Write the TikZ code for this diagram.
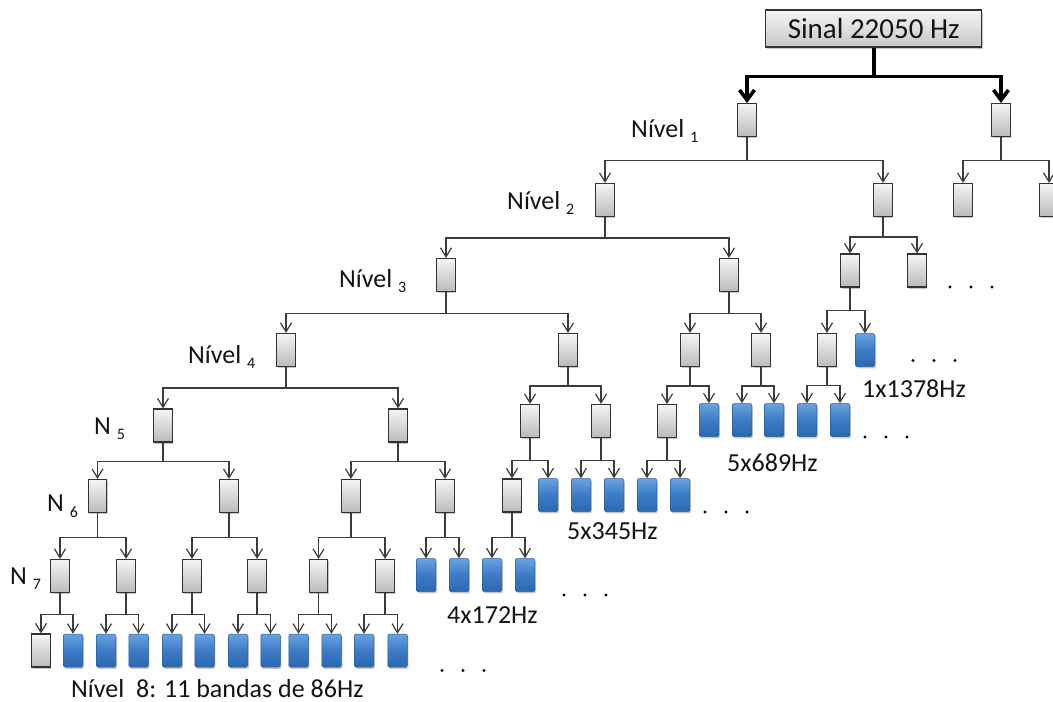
\documentclass[tikz,border=0pt]{standalone}
\usepackage{fontspec}
\setmainfont{Carlito}
\usetikzlibrary{arrows.meta,shadows}
\definecolor{linegray}{HTML}{3C3C3C}
\definecolor{boxtop}{HTML}{F5F5F5}
\definecolor{boxbot}{HTML}{BABABA}
\definecolor{boxedge}{HTML}{333333}
\definecolor{bluetop}{HTML}{6AA2E0}
\definecolor{bluemid}{HTML}{3C7CC6}
\definecolor{bluebot}{HTML}{2C68B0}
\definecolor{blueedge}{HTML}{2A5E9C}
\definecolor{inktext}{HTML}{141414}

% level label with a lowered index digit
\newcommand\nivlabel[2]{#1 \raisebox{-5.5pt}{\fontsize{16}{16}\selectfont #2}}
% parent #1 splits into #2 and #3, branch line #4 below the parent
\newcommand\splitto[4]{%
  \draw[conn] (#1.south) -- ++(0,#4) coordinate (#1-m);
  \draw[conn,arr] (#1-m) -| (#2.north);
  \draw[conn,arr] (#1-m) -| (#3.north);}

\begin{document}
\begin{tikzpicture}[x=1pt,y=-1pt,
  boxshadow/.style={drop shadow={shadow xshift=1.2pt,shadow yshift=-1.8pt,opacity=0.22,fill=black}},
  gbox/.style={draw=boxedge,line width=1.1pt,top color=boxtop,bottom color=boxbot,
    minimum width=18.5pt,minimum height=33pt,inner sep=0pt,boxshadow},
  bbox/.style={draw=blueedge,line width=0.5pt,rounded corners=1.5pt,
    top color=bluetop,bottom color=bluebot,middle color=bluemid,
    minimum width=19.5pt,minimum height=33pt,inner sep=0pt,boxshadow},
  sbox/.style={draw=boxedge,line width=1.3pt,top color=boxtop,bottom color=black!22,
    minimum width=216pt,minimum height=37pt,inner sep=0pt,boxshadow,
    font=\fontsize{29}{32}\selectfont,text=inktext},
  conn/.style={draw=linegray,line width=1.2pt},
  arr/.style={-{Straight Barb[length=9pt,width=11pt]}},
  bigconn/.style={draw=black,line width=3.6pt},
  bigarr/.style={-{Straight Barb[length=10pt,width=15pt]}},
  lbl/.style={inner sep=0pt,anchor=base west,font=\fontsize{26}{30}\selectfont,text=inktext},
  dot/.style={fill=black,radius=1.7pt}]

\fill[white] (0,0) rectangle (1053,702);
\clip (0,0) rectangle (1053,702);

% signal and level 1
\node[sbox] (s) at (873.7,28.5) {Sinal 22050 Hz};
\node[gbox] (a) at (747,120) {};
\node[gbox] (b) at (1001,120) {};

% level 2
\node[gbox] (aa) at (605,200) {};
\node[gbox] (ab) at (883,200) {};
\node[gbox] (ba) at (963,200) {};
\node[gbox] (bb) at (1049,200) {};

% level 3
\node[gbox] (aaa) at (446,275) {};
\node[gbox] (aab) at (729,275) {};
\node[gbox] (aba) at (850,270.5) {};
\node[gbox] (abb) at (917,270.5) {};

% level 4
\node[gbox] (aaaa) at (286,350) {};
\node[gbox] (aaab) at (568,350) {};
\node[gbox] (aaba) at (690,350) {};
\node[gbox] (aabb) at (761,350) {};
\node[gbox] (abaa) at (827,350) {};
\node[bbox] (abab) at (865,350) {};

% level 5
\node[gbox] (e1) at (163,425.5) {};
\node[gbox] (e2) at (398,425.5) {};
\node[gbox] (e3) at (530,421) {};
\node[gbox] (e4) at (601,421) {};
\node[gbox] (e5) at (667,421) {};
\node[bbox] (e6) at (709,420) {};
\node[bbox] (e7) at (742,420) {};
\node[bbox] (e8) at (774,420) {};
\node[bbox] (e9) at (807,420) {};
\node[bbox] (e10) at (840,420) {};

% level 6
\node[gbox] (f1) at (97.5,496) {};
\node[gbox] (f2) at (229,496) {};
\node[gbox] (f3) at (351,496) {};
\node[gbox] (f4) at (445,496) {};
\node[gbox] (f5) at (512,495.5) {};
\node[bbox] (f6) at (548,495) {};
\node[bbox] (f7) at (581,495) {};
\node[bbox] (f8) at (614,495) {};
\node[bbox] (f9) at (647,495) {};
\node[bbox] (f10) at (680,495) {};

% level 7
\node[gbox] (g1) at (60,576) {};
\node[gbox] (g2) at (126,576) {};
\node[gbox] (g3) at (192,576) {};
\node[gbox] (g4) at (257,576) {};
\node[gbox] (g5) at (318.5,576) {};
\node[gbox] (g6) at (385,576) {};
\node[bbox] (g7) at (426,575) {};
\node[bbox] (g8) at (459,575) {};
\node[bbox] (g9) at (492,575) {};
\node[bbox] (g10) at (525,575) {};

% level 8
\node[gbox] (h1) at (41,650.5) {};
\node[bbox] (h2) at (73,650.5) {};
\node[bbox] (h3) at (106,650.5) {};
\node[bbox] (h4) at (138.5,650.5) {};
\node[bbox] (h5) at (172,650.5) {};
\node[bbox] (h6) at (204.5,650.5) {};
\node[bbox] (h7) at (238,650.5) {};
\node[bbox] (h8) at (270.5,650.5) {};
\node[bbox] (h9) at (298.5,650.5) {};
\node[bbox] (h10) at (331.5,650.5) {};
\node[bbox] (h11) at (364,650.5) {};
\node[bbox] (h12) at (397.5,650.5) {};

% bold split of the input signal
\draw[bigconn] (s.south) -- ++(0,29) coordinate (s-m);
\draw[bigconn,bigarr] (s-m) -| (a.north);
\draw[bigconn,bigarr] (s-m) -| (b.north);

% filter bank splits
\splitto{a}{aa}{ab}{23.5}
\splitto{b}{ba}{bb}{23.5}
\splitto{aa}{aaa}{aab}{21}
\splitto{ab}{aba}{abb}{20}
\splitto{aaa}{aaaa}{aaab}{21.5}
\splitto{aab}{aaba}{aabb}{21.5}
\splitto{aba}{abaa}{abab}{23}
\splitto{aaaa}{e1}{e2}{21}
\splitto{aaab}{e3}{e4}{19}
\splitto{aaba}{e5}{e6}{19}
\splitto{aabb}{e7}{e8}{19}
\splitto{abaa}{e9}{e10}{18.5}
\splitto{e1}{f1}{f2}{19}
\splitto{e2}{f3}{f4}{19}
\splitto{e3}{f5}{f6}{22.5}
\splitto{e4}{f7}{f8}{22.5}
\splitto{e5}{f9}{f10}{22.5}
\splitto{f1}{g1}{g2}{24.5}
\splitto{f2}{g3}{g4}{24.5}
\splitto{f3}{g5}{g6}{24.5}
\splitto{f4}{g7}{g8}{24.5}
\splitto{f5}{g9}{g10}{25}
\splitto{g1}{h1}{h2}{21.5}
\splitto{g2}{h3}{h4}{21.5}
\splitto{g3}{h5}{h6}{21.5}
\splitto{g4}{h7}{h8}{21.5}
\splitto{g5}{h9}{h10}{21.5}
\splitto{g6}{h11}{h12}{21.5}

% level labels
\node[lbl] (n1) at (631,137) {\nivlabel{Nível}{1}};
\node[lbl] (n2) at (507,209) {\nivlabel{Nível}{2}};
\node[lbl] (n3) at (339,287) {\nivlabel{Nível}{3}};
\node[lbl] (n4) at (188,363) {\nivlabel{Nível}{4}};
\node[lbl] (n5) at (94,434) {\nivlabel{N}{5}};
\node[lbl] (n6) at (47,511.5) {\nivlabel{N}{6}};
\node[lbl] (n7) at (10,584) {\nivlabel{N}{7}};

% band counts
\node[lbl] (c1) at (862,397) {1x1378Hz};
\node[lbl] (c2) at (727,471) {5x689Hz};
\node[lbl] (c3) at (567,539) {5x345Hz};
\node[lbl] (c4) at (447,623) {4x172Hz};
\node[lbl] (c5) at (71,697) {Nível~~8: 11 bandas de 86Hz};

% continuation dots
\foreach \x/\y in {950/287, 913/360.5, 865/437, 705/512, 564/595, 442/670.5}
  \foreach \k in {0,1,2}
    \fill[dot] (\x+\k*21,\y) circle;
\end{tikzpicture}
\end{document}
